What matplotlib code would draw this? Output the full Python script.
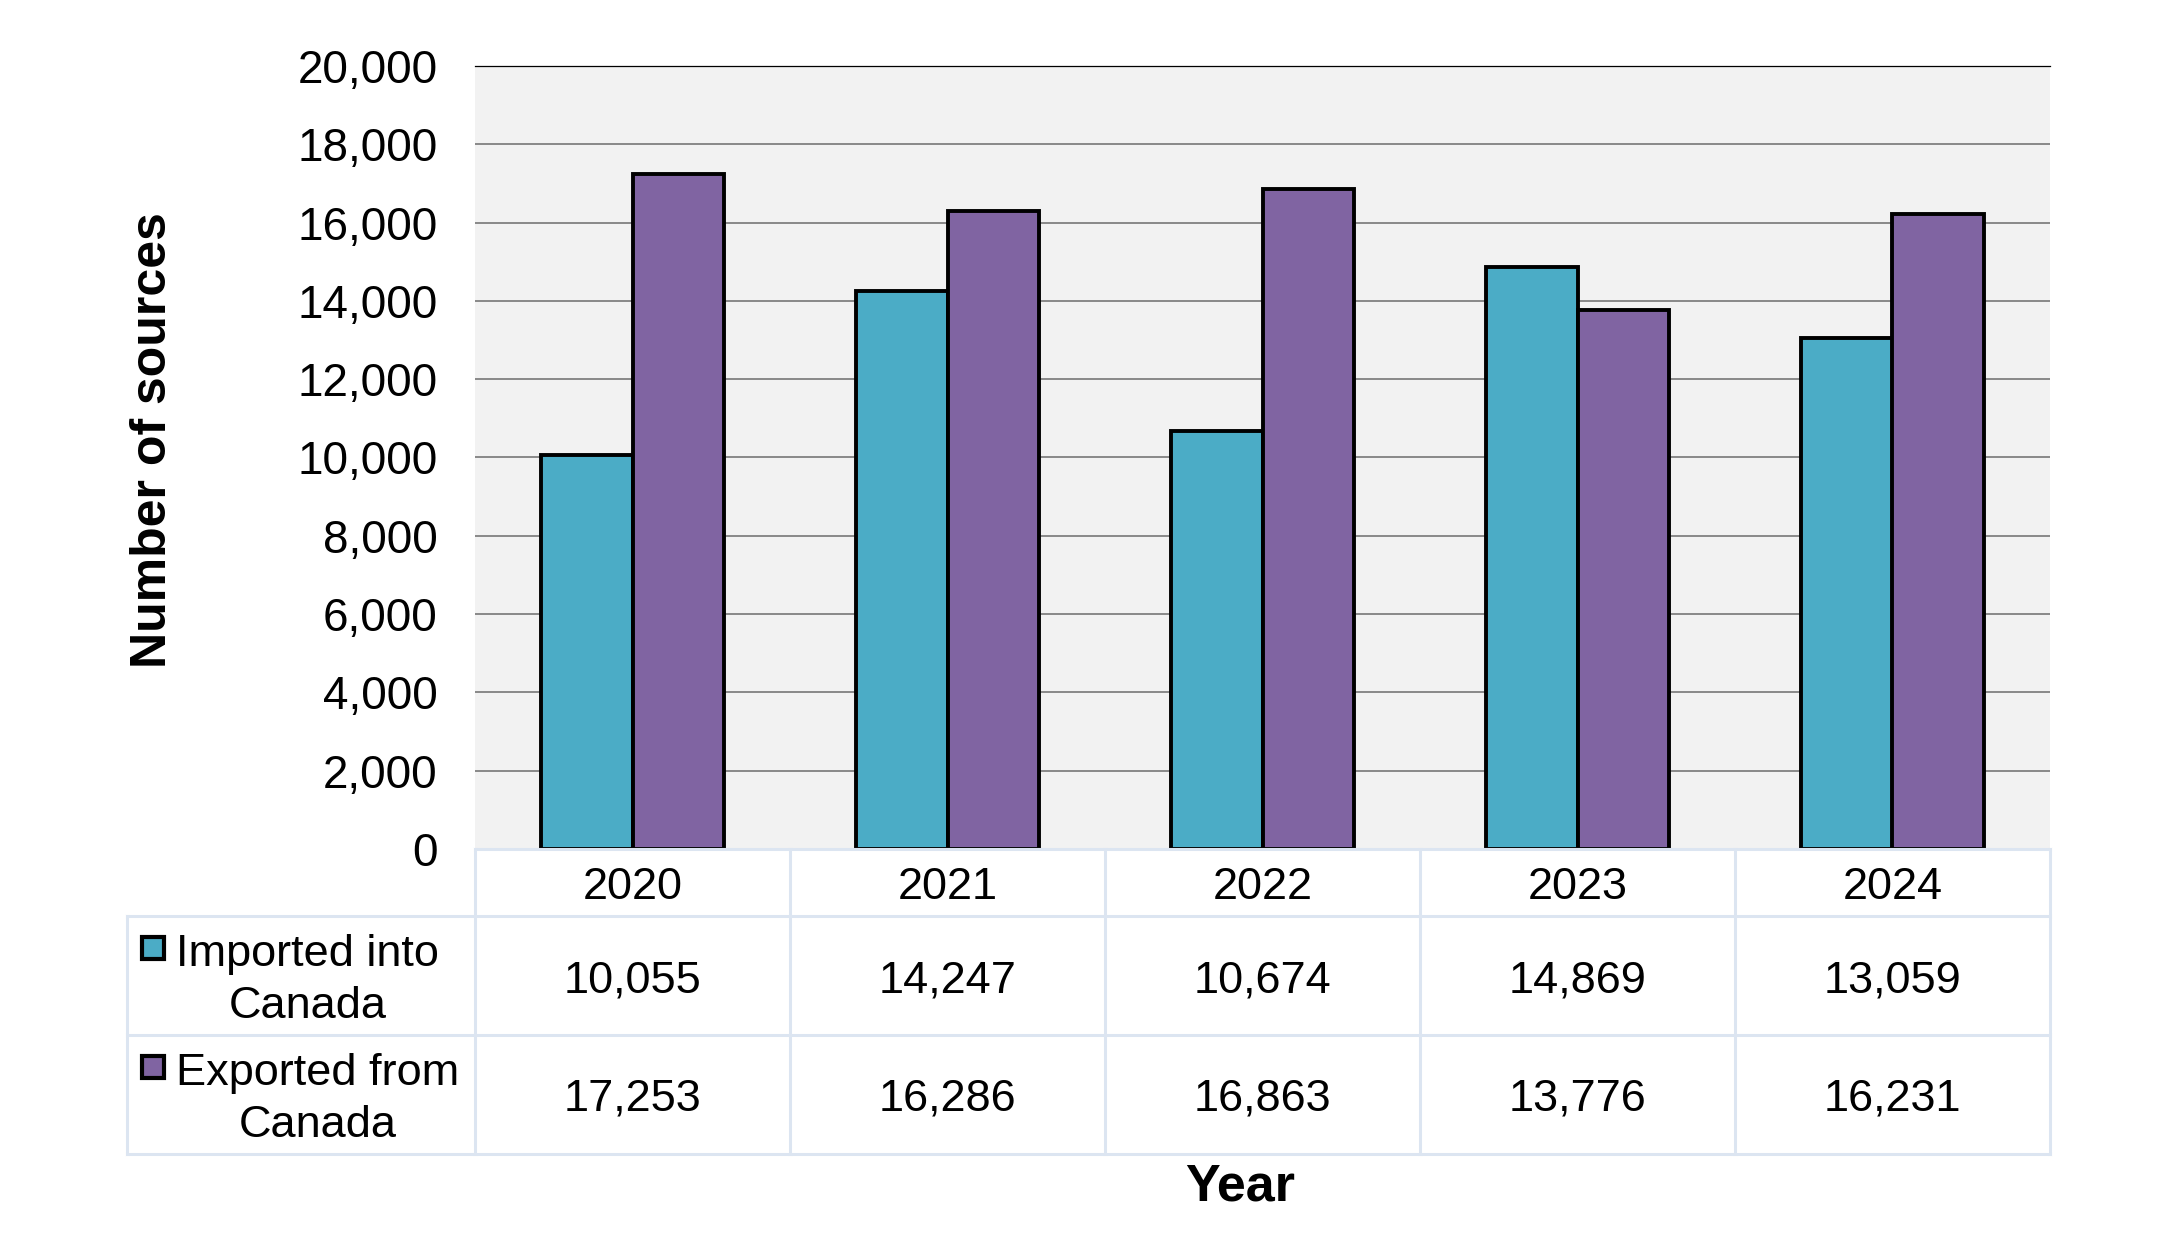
import matplotlib
matplotlib.use("Agg")
import matplotlib.pyplot as plt

plt.rcParams['font.family'] = ['Liberation Sans', 'DejaVu Sans']

years = ['2020', '2021', '2022', '2023', '2024']
imported = [10055, 14247, 10674, 14869, 13059]
exported = [17253, 16286, 16863, 13776, 16231]
series_names = ['Imported into\nCanada', 'Exported from\nCanada']
colors = ['#4BACC6', '#8064A2']

W, H = 2157, 1234
fig = plt.figure(figsize=(W / 100, H / 100), dpi=100)

# main plot area (pixels)
px_left, px_right, px_top, px_bottom = 475, 2050, 66, 849
ax = fig.add_axes([px_left / W, 1 - px_bottom / H,
                   (px_right - px_left) / W, (px_bottom - px_top) / H])
ax.set_facecolor('#F2F2F2')

x = list(range(len(years)))
bw = 0.29
ax.bar([i - bw / 2 for i in x], imported, bw, color=colors[0],
       edgecolor='black', linewidth=2.8, zorder=3)
ax.bar([i + bw / 2 for i in x], exported, bw, color=colors[1],
       edgecolor='black', linewidth=2.8, zorder=3)

ax.set_xlim(-0.5, len(years) - 0.5)
ax.set_ylim(0, 20000)
ax.set_yticks(range(0, 20001, 2000))
ax.set_yticklabels([f'{v:,}' for v in range(0, 20001, 2000)])
ax.tick_params(axis='y', length=0, pad=27, labelsize=33)
ax.set_xticks([])
ax.yaxis.grid(True, color='#808080', linewidth=1.3, zorder=0)
ax.set_axisbelow(True)
for s in ['left', 'right', 'bottom']:
    ax.spines[s].set_visible(False)
ax.spines['top'].set_color('black')
ax.spines['top'].set_linewidth(0.9)

# data table below
row_h = [67, 119, 119]
tab_h = sum(row_h)
tx = fig.add_axes([px_left / W, 1 - (px_bottom + tab_h) / H,
                   (px_right - px_left) / W, tab_h / H])
tx.set_xlim(-0.5, len(years) - 0.5)
tx.set_ylim(tab_h, 0)
tx.axis('off')
colw = (px_right - px_left) / len(years)
lab_left = -0.5 - (px_left - 127) / colw
lc = '#DCE5F1'
lw = 2.2
y1 = row_h[0]
y2 = row_h[0] + row_h[1]
for i in range(len(years) + 1):
    tx.plot([i - 0.5, i - 0.5], [0, tab_h], color=lc, lw=lw, clip_on=False)
tx.plot([lab_left, lab_left], [y1, tab_h], color=lc, lw=lw, clip_on=False)
tx.plot([-0.5, len(years) - 0.5], [0, 0], color=lc, lw=lw, clip_on=False)
for yy in [y1, y2, tab_h]:
    tx.plot([lab_left, len(years) - 0.5], [yy, yy], color=lc, lw=lw, clip_on=False)

dy = 5  # small downward nudge so digits sit centred in the cells
for i, yr in enumerate(years):
    tx.text(i, y1 / 2 + dy, yr, ha='center', va='center', fontsize=32.5)
    tx.text(i, (y1 + y2) / 2 + dy, f'{imported[i]:,}', ha='center', va='center', fontsize=32.5)
    tx.text(i, (y2 + tab_h) / 2 + dy, f'{exported[i]:,}', ha='center', va='center', fontsize=32.5)

key_x = -0.5 - (px_left - 153) / colw
text_x = -0.5 - (px_left - 176) / colw
for name, col, (top, bot) in zip(series_names, colors, [(y1, y2), (y2, tab_h)]):
    cy = (top + bot) / 2
    tx.text(text_x, cy + dy, name, ha='left', va='center', multialignment='center',
            fontsize=32.5, linespacing=1.36, clip_on=False)
    tx.plot([key_x], [cy - 28], marker='s', markersize=16, markerfacecolor=col,
            markeredgecolor='black', markeredgewidth=3, clip_on=False)

fig.text(153 / W, 1 - 440 / H, 'Number of sources', rotation=90, ha='center',
         va='center', fontsize=36, fontweight='bold')
fig.text(1240 / W, 1 - 1187 / H, 'Year', ha='center', va='center',
         fontsize=37.5, fontweight='bold')

fig.savefig('out.png', dpi=100, facecolor='white')
